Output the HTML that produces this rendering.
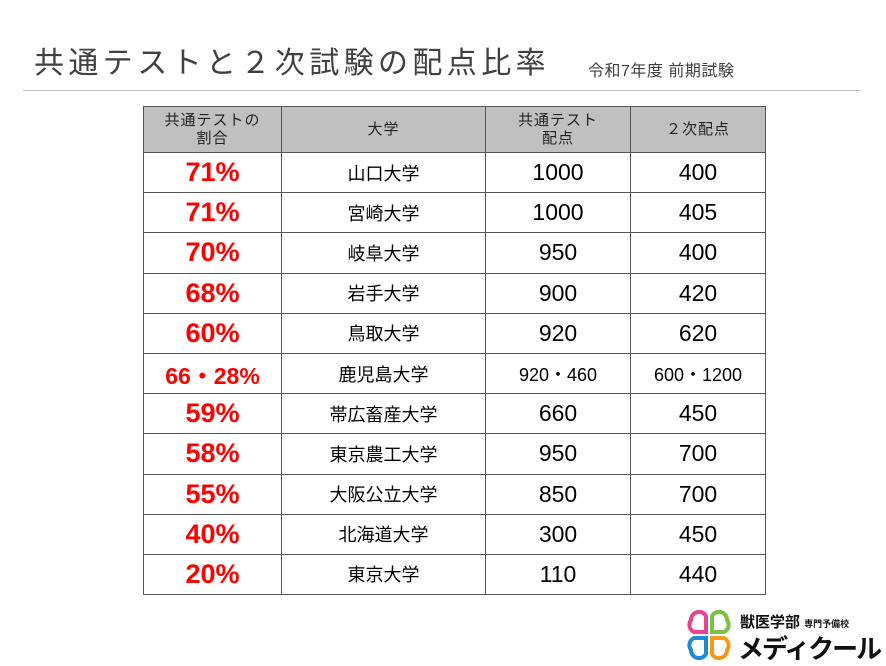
<!DOCTYPE html>
<html><head><meta charset="utf-8"><style>
body{margin:0;width:886px;height:664px;background:#fff;position:relative;overflow:hidden;font-family:"Liberation Sans","Noto Sans CJK JP",sans-serif;}
.t{position:absolute;left:34px;top:38px;font-size:30px;color:#404040;letter-spacing:4.4px;white-space:nowrap}
.s{position:absolute;left:588px;top:57px;font-size:16px;color:#404040;white-space:nowrap;letter-spacing:0.5px}
.hr{position:absolute;left:23px;top:90px;width:837px;height:1px;background:#bfbfbf}
table{position:absolute;left:143px;top:106px;border-collapse:collapse;table-layout:fixed}
td{border:1px solid #555;text-align:center;padding:0;color:#000}
th{border:1px solid #555;background:#c0c0c0;font-weight:normal;font-size:15px;line-height:18px;color:#222;height:45px;padding:0;letter-spacing:1px}
td{height:39.2px}
.r{color:#f00;font-weight:bold;font-size:27px}
.u{font-size:18px}
.n{font-size:23px}
.m{font-size:18px}
</style></head><body>
<div class="t">共通テストと２次試験の配点比率</div>
<div class="s">令和7年度 前期試験</div>
<div class="hr"></div>
<table>
<colgroup><col style="width:138px"><col style="width:204px"><col style="width:145px"><col style="width:135px"></colgroup>
<tr><th>共通テストの<br>割合</th><th>大学</th><th>共通テスト<br>配点</th><th>２次配点</th></tr>
<tr><td class="r">71%</td><td class="u">山口大学</td><td class="n">1000</td><td class="n">400</td></tr>
<tr><td class="r">71%</td><td class="u">宮崎大学</td><td class="n">1000</td><td class="n">405</td></tr>
<tr><td class="r">70%</td><td class="u">岐阜大学</td><td class="n">950</td><td class="n">400</td></tr>
<tr><td class="r">68%</td><td class="u">岩手大学</td><td class="n">900</td><td class="n">420</td></tr>
<tr><td class="r">60%</td><td class="u">鳥取大学</td><td class="n">920</td><td class="n">620</td></tr>
<tr><td class="r" style="font-size:23px">66・28%</td><td class="u">鹿児島大学</td><td class="m">920・460</td><td class="m">600・1200</td></tr>
<tr><td class="r">59%</td><td class="u">帯広畜産大学</td><td class="n">660</td><td class="n">450</td></tr>
<tr><td class="r">58%</td><td class="u">東京農工大学</td><td class="n">950</td><td class="n">700</td></tr>
<tr><td class="r">55%</td><td class="u">大阪公立大学</td><td class="n">850</td><td class="n">700</td></tr>
<tr><td class="r">40%</td><td class="u">北海道大学</td><td class="n">300</td><td class="n">450</td></tr>
<tr><td class="r">20%</td><td class="u">東京大学</td><td class="n">110</td><td class="n">440</td></tr>
</table>
<svg style="position:absolute;left:684px;top:610px" width="50" height="50" viewBox="0 0 50 50" fill="none" stroke-width="4">
<path d="M22 6a8 8 0 0 0-15 4a8 8 0 0 0 3 12h12z" stroke="#e8438f"/>
<path d="M28 6a8 8 0 0 1 15 4a8 8 0 0 1-3 12H28z" stroke="#7cc242"/>
<path d="M22 44a8 8 0 0 1-15-4a8 8 0 0 1 3-12h12z" stroke="#1f8ad6"/>
<path d="M28 44a8 8 0 0 0 15-4a8 8 0 0 0-3-12H28z" stroke="#f39a1e"/>
</svg>
<div style="position:absolute;left:740px;top:611px;font-size:15px;font-weight:bold;color:#111;white-space:nowrap">獣医学部 <span style="font-size:9px">専門予備校</span></div>
<div style="position:absolute;left:738px;top:629px;font-size:26px;font-weight:bold;color:#111;white-space:nowrap;letter-spacing:-2px">メディクール</div>
</body></html>
